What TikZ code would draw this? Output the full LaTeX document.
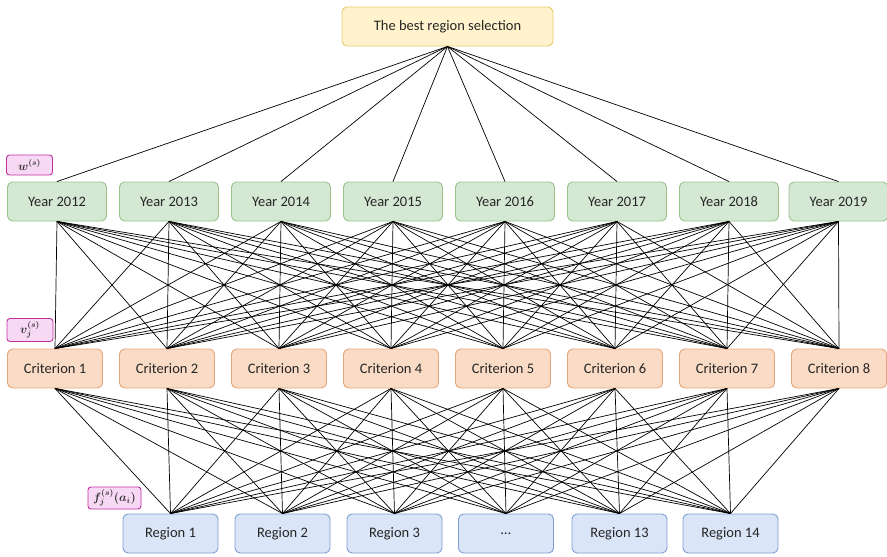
\documentclass[tikz,border=0pt]{standalone}
\usepackage{fontspec}
\setmainfont{Carlito}
\begin{document}
\begin{tikzpicture}[x=1pt,y=-1pt,
  box/.style={draw, rounded corners=5pt, line width=0.9pt, minimum height=39pt, inner sep=0pt, font=\fontsize{14.5}{16}\selectfont, text=black!85},
  topbox/.style={box, fill=yellow1, draw=yellow2, minimum width=211pt},
  yearbox/.style={box, fill=green1, draw=green2, minimum width=99pt},
  critbox/.style={box, fill=orange1, draw=orange2, minimum width=95pt},
  regbox/.style={box, fill=blue1, draw=blue2, minimum width=95pt},
  lab/.style={draw=pink2, fill=pink1, rounded corners=3pt, line width=0.9pt, inner sep=0pt, font=\fontsize{12}{14}\selectfont\boldmath, text=black!80},
  link/.style={draw=black, line width=0.7pt}
]
\definecolor{yellow1}{HTML}{FFF2CC}
\definecolor{yellow2}{HTML}{E8CB6A}
\definecolor{green1}{HTML}{D5E8D4}
\definecolor{green2}{HTML}{97C48A}
\definecolor{orange1}{HTML}{FADCC6}
\definecolor{orange2}{HTML}{E6A67C}
\definecolor{blue1}{HTML}{DAE5F7}
\definecolor{blue2}{HTML}{7E9DD6}
\definecolor{pink1}{HTML}{F8D9F5}
\definecolor{pink2}{HTML}{C0309F}
\useasboundingbox (0,0) rectangle (887,557);

\node[topbox] (top) at (447.5,26.5) {The best region selection};

\foreach \i/\x/\t in {1/57/2012,2/169/2013,3/281/2014,4/393/2015,5/505/2016,6/617/2017,7/729/2018,8/838.5/2019}
  \node[yearbox] (y\i) at (\x,201.5) {Year \t};
\foreach \i/\x in {1/55,2/167,3/279,4/391,5/503,6/615,7/727,8/839}
  \node[critbox] (c\i) at (\x,368.5) {Criterion \i};
\foreach \i/\x/\t in {1/170.5/Region 1,2/282.5/Region 2,3/394.5/Region 3,4/506/{\ldots},5/619.5/Region 13,6/730.5/Region 14}
  \node[regbox] (r\i) at (\x,533.5) {\t};

\node[lab, minimum width=46pt, minimum height=20pt] (lw) at (29.5,165) {$w^{(s)}$};
\node[lab, minimum width=46pt, minimum height=23pt] (lv) at (30,330) {$v_j^{(s)}$};
\node[lab, minimum width=53pt, minimum height=22pt] (lf) at (114.5,498) {$f_j^{(s)}(a_i)$};

\foreach \i in {1,...,8} \draw[link] (top.south) -- (y\i.north);
\foreach \i in {1,...,8} \foreach \j in {1,...,8} \draw[link] (y\i.south) -- (c\j.north);
\foreach \j in {1,...,8} \foreach \k in {1,...,6} \draw[link] (c\j.south) -- (r\k.north);
\end{tikzpicture}
\end{document}
